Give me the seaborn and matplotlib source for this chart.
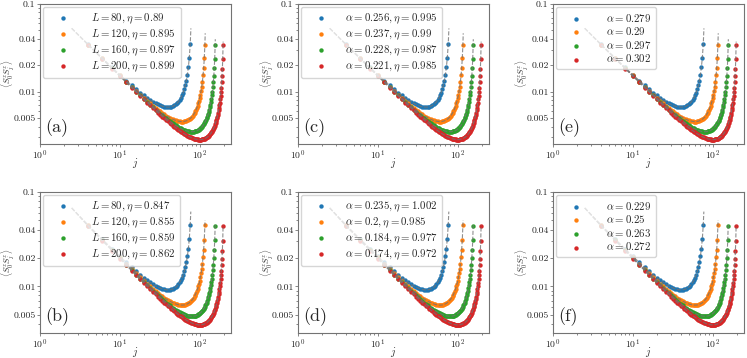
import matplotlib
matplotlib.use("Agg")
import matplotlib.pyplot as plt
from matplotlib.ticker import NullFormatter
import seaborn as sns
import numpy as np
import pandas as pd

# chain lengths and site index j = 4, 6, ..., L-4
sizes = [80, 120, 160, 200]

# ---- upper row data (panels a, c, e) ----
top_L80 = [0.0347, 0.0243, 0.0189, 0.0156, 0.0134, 0.0119, 0.0107, 0.00977, 0.00906, 0.00849,
           0.00804, 0.00767, 0.00738, 0.00714, 0.00696, 0.00682, 0.00673, 0.00667, 0.00666,
           0.00667, 0.00673, 0.00682, 0.00696, 0.00714, 0.00738, 0.00767, 0.00804, 0.00849,
           0.00906, 0.00977, 0.0107, 0.0119, 0.0134, 0.0156, 0.0189, 0.0243, 0.0347]
top_L120 = [0.0344, 0.0240, 0.0186, 0.0153, 0.0130, 0.0114, 0.0102, 0.00924, 0.00847, 0.00785,
            0.00733, 0.00689, 0.00653, 0.00621, 0.00594, 0.00571, 0.00551, 0.00533, 0.00518, 0.00505,
            0.00494, 0.00484, 0.00476, 0.00470, 0.00465, 0.00461, 0.00458, 0.00456, 0.00455,
            0.00456, 0.00458, 0.00461, 0.00465, 0.00470, 0.00476, 0.00484, 0.00494, 0.00505, 0.00518,
            0.00533, 0.00551, 0.00571, 0.00594, 0.00621, 0.00653, 0.00689, 0.00733, 0.00785, 0.00847,
            0.00924, 0.0102, 0.0114, 0.0130, 0.0153, 0.0186, 0.0240, 0.0344]
top_L160 = [0.0343, 0.0238, 0.0185, 0.0151, 0.0129, 0.0113, 0.0100, 0.00905, 0.00827, 0.00763,
            0.00709, 0.00664, 0.00625, 0.00592, 0.00563, 0.00537, 0.00515, 0.00495, 0.00477, 0.00461,
            0.00447, 0.00434, 0.00423, 0.00412, 0.00403, 0.00395, 0.00387, 0.00381, 0.00375, 0.00370,
            0.00365, 0.00362, 0.00358, 0.00355, 0.00353, 0.00352, 0.00350, 0.00350, 0.00349,
            0.00350, 0.00350, 0.00352, 0.00353, 0.00355, 0.00358, 0.00362, 0.00365, 0.00370, 0.00375,
            0.00381, 0.00387, 0.00395, 0.00403, 0.00412, 0.00423, 0.00434, 0.00447, 0.00461, 0.00477,
            0.00495, 0.00515, 0.00537, 0.00563, 0.00592, 0.00625, 0.00664, 0.00709, 0.00763, 0.00827,
            0.00905, 0.0100, 0.0113, 0.0129, 0.0151, 0.0185, 0.0238, 0.0343]
top_L200 = [0.0342, 0.0237, 0.0183, 0.0150, 0.0128, 0.0111, 0.00991, 0.00894, 0.00815, 0.00751,
            0.00696, 0.00651, 0.00611, 0.00577, 0.00547, 0.00520, 0.00497, 0.00476, 0.00457, 0.00440,
            0.00425, 0.00411, 0.00399, 0.00387, 0.00377, 0.00367, 0.00359, 0.00351, 0.00343, 0.00336,
            0.00330, 0.00325, 0.00319, 0.00315, 0.00310, 0.00306, 0.00303, 0.00300, 0.00297, 0.00294,
            0.00292, 0.00290, 0.00288, 0.00287, 0.00286, 0.00285, 0.00284, 0.00284, 0.00284,
            0.00284, 0.00284, 0.00285, 0.00286, 0.00287, 0.00288, 0.00290, 0.00292, 0.00294, 0.00297,
            0.00300, 0.00303, 0.00306, 0.00310, 0.00315, 0.00319, 0.00325, 0.00330, 0.00336, 0.00343,
            0.00351, 0.00359, 0.00367, 0.00377, 0.00387, 0.00399, 0.00411, 0.00425, 0.00440, 0.00457,
            0.00476, 0.00497, 0.00520, 0.00547, 0.00577, 0.00611, 0.00651, 0.00696, 0.00751, 0.00815,
            0.00894, 0.00991, 0.0111, 0.0128, 0.0150, 0.0183, 0.0237, 0.0342]

# ---- lower row data (panels b, d, f) ----
bot_L80 = [0.0448, 0.0318, 0.0250, 0.0208, 0.0180, 0.0160, 0.0144, 0.0133, 0.0123, 0.0116,
           0.0110, 0.0105, 0.0101, 0.00981, 0.00957, 0.00939, 0.00927, 0.00919, 0.00917,
           0.00919, 0.00927, 0.00939, 0.00957, 0.00981, 0.0101, 0.0105, 0.0110, 0.0116,
           0.0123, 0.0133, 0.0144, 0.0160, 0.0180, 0.0208, 0.0250, 0.0318, 0.0448]
bot_L120 = [0.0443, 0.0313, 0.0245, 0.0203, 0.0174, 0.0153, 0.0137, 0.0125, 0.0115, 0.0107,
            0.00999, 0.00942, 0.00893, 0.00852, 0.00816, 0.00785, 0.00759, 0.00735, 0.00715, 0.00698,
            0.00683, 0.00670, 0.00660, 0.00651, 0.00644, 0.00639, 0.00635, 0.00633, 0.00632,
            0.00633, 0.00635, 0.00639, 0.00644, 0.00651, 0.00660, 0.00670, 0.00683, 0.00698, 0.00715,
            0.00735, 0.00759, 0.00785, 0.00816, 0.00852, 0.00893, 0.00942, 0.00999, 0.0107, 0.0115,
            0.0125, 0.0137, 0.0153, 0.0174, 0.0203, 0.0245, 0.0313, 0.0443]
bot_L160 = [0.0439, 0.0309, 0.0241, 0.0199, 0.0170, 0.0149, 0.0133, 0.0121, 0.0111, 0.0103,
            0.00956, 0.00897, 0.00846, 0.00802, 0.00764, 0.00730, 0.00701, 0.00674, 0.00651, 0.00630,
            0.00611, 0.00594, 0.00579, 0.00565, 0.00553, 0.00542, 0.00532, 0.00524, 0.00516, 0.00509,
            0.00503, 0.00498, 0.00493, 0.00490, 0.00487, 0.00485, 0.00483, 0.00482, 0.00482,
            0.00482, 0.00483, 0.00485, 0.00487, 0.00490, 0.00493, 0.00498, 0.00503, 0.00509, 0.00516,
            0.00524, 0.00532, 0.00542, 0.00553, 0.00565, 0.00579, 0.00594, 0.00611, 0.00630, 0.00651,
            0.00674, 0.00701, 0.00730, 0.00764, 0.00802, 0.00846, 0.00897, 0.00956, 0.0103, 0.0111,
            0.0121, 0.0133, 0.0149, 0.0170, 0.0199, 0.0241, 0.0309, 0.0439]
bot_L200 = [0.0436, 0.0306, 0.0239, 0.0197, 0.0168, 0.0147, 0.0131, 0.0119, 0.0109, 0.0100,
            0.00933, 0.00873, 0.00822, 0.00777, 0.00738, 0.00703, 0.00672, 0.00645, 0.00620, 0.00598,
            0.00578, 0.00560, 0.00543, 0.00528, 0.00514, 0.00502, 0.00490, 0.00479, 0.00470, 0.00461,
            0.00452, 0.00445, 0.00438, 0.00432, 0.00426, 0.00421, 0.00416, 0.00412, 0.00408, 0.00404,
            0.00401, 0.00399, 0.00396, 0.00395, 0.00393, 0.00392, 0.00391, 0.00390, 0.00390,
            0.00390, 0.00391, 0.00392, 0.00393, 0.00395, 0.00396, 0.00399, 0.00401, 0.00404, 0.00408,
            0.00412, 0.00416, 0.00421, 0.00426, 0.00432, 0.00438, 0.00445, 0.00452, 0.00461, 0.00470,
            0.00479, 0.00490, 0.00502, 0.00514, 0.00528, 0.00543, 0.00560, 0.00578, 0.00598, 0.00620,
            0.00645, 0.00672, 0.00703, 0.00738, 0.00777, 0.00822, 0.00873, 0.00933, 0.0100, 0.0109,
            0.0119, 0.0131, 0.0147, 0.0168, 0.0197, 0.0239, 0.0306, 0.0436]

# ends of the dashed fit curves (shared start, one end per L)
top_fit_start = (2.5, 0.0527)
top_fit_end_j = [77.5, 117.1, 156.6, 196.4]
top_fit_end_c = [0.0527, 0.0463, 0.0396, 0.0372]
bot_fit_start = (2.5, 0.0677)
bot_fit_end_j = [77.3, 116.5, 156.2, 196.1]
bot_fit_end_c = [0.0620, 0.0500, 0.0460, 0.0445]

# legend texts
labels_a = [r'$L=80, \eta=0.89$', r'$L=120, \eta=0.895$', r'$L=160, \eta=0.897$', r'$L=200, \eta=0.899$']
labels_b = [r'$L=80, \eta=0.847$', r'$L=120, \eta=0.855$', r'$L=160, \eta=0.859$', r'$L=200, \eta=0.862$']
labels_c = [r'$\alpha=0.256, \eta=0.995$', r'$\alpha=0.237, \eta=0.99$', r'$\alpha=0.228, \eta=0.987$', r'$\alpha=0.221, \eta=0.985$']
labels_d = [r'$\alpha=0.235, \eta=1.002$', r'$\alpha=0.2, \eta=0.985$', r'$\alpha=0.184, \eta=0.977$', r'$\alpha=0.174, \eta=0.972$']
labels_e = [r'$\alpha=0.279$', r'$\alpha=0.29$', r'$\alpha=0.297$', r'$\alpha=0.302$']
labels_f = [r'$\alpha=0.229$', r'$\alpha=0.25$', r'$\alpha=0.263$', r'$\alpha=0.272$']

ytick_vals = [0.005, 0.01, 0.02, 0.04, 0.1]
ytick_text = ['0.005', '0.01', '0.02', '0.04', '0.1']

sns.set_style("ticks")
plt.rcParams['font.family'] = 'serif'
plt.rcParams['font.serif'] = ['cmr10']
plt.rcParams['mathtext.fontset'] = 'cm'
plt.rcParams['axes.formatter.use_mathtext'] = True
plt.rcParams['axes.unicode_minus'] = False

colors = sns.color_palette("tab10")[:4]
frame_color = '0.45'


def draw_panel(ax, series, fit_start, fit_end_j, fit_end_c, labels, tag, ylim, textpad):
    ax.set_xscale('log')
    ax.set_yscale('log')
    for k, L in enumerate(sizes):
        df = pd.DataFrame({'j': np.arange(4, L - 3, 2), 'C': series[k]})
        sns.scatterplot(data=df, x='j', y='C', ax=ax, color=colors[k], s=10,
                        linewidth=0, label=labels[k], zorder=2)
    for k, L in enumerate(sizes):
        fj = np.concatenate([[fit_start[0]], np.arange(4, L - 3, 2), [fit_end_j[k]]])
        fc = np.concatenate([[fit_start[1]], series[k], [fit_end_c[k]]])
        sns.lineplot(x=fj, y=fc, ax=ax, color='0.45', lw=0.8, ls='--', alpha=0.8,
                     estimator=None, sort=False, zorder=3)

    ax.set_xlim(1, 245)
    ax.set_ylim(*ylim)
    ax.set_yticks(ytick_vals)
    ax.set_yticklabels(ytick_text)
    ax.yaxis.set_minor_formatter(NullFormatter())
    ax.tick_params(which='both', labelsize=7, color=frame_color, width=0.6, pad=1.0)
    ax.tick_params(which='major', length=2.2)
    ax.tick_params(which='minor', length=1.3)
    for sp in ax.spines.values():
        sp.set_color(frame_color)
        sp.set_linewidth(0.8)

    ax.set_xlabel(r'$j$', fontsize=7.5)
    ax.xaxis.set_label_coords(0.5, -0.085)
    ax.set_ylabel(r'$\langle S^z_0 S^z_j\rangle$', fontsize=6.2)
    ax.yaxis.set_label_coords(-0.123, 0.5)
    ax.text(0.028, 0.05, tag, transform=ax.transAxes, fontsize=13, ha='left', va='bottom')
    ax.legend(loc='upper left', fontsize=7.8, handletextpad=textpad, handlelength=2.8,
              labelspacing=0.15, borderaxespad=0.3, borderpad=0.4, framealpha=0.8)


fig = plt.figure(figsize=(7.47, 3.58), dpi=100)

col_left = [0.0535, 0.3989, 0.7403]
col_pad = [1.25, 0.85, 1.4]
width = 0.2555
top_bottom, top_height = 0.5978, 0.3911
bot_bottom, bot_height = 0.0698, 0.3938

top_series = [top_L80, top_L120, top_L160, top_L200]
bot_series = [bot_L80, bot_L120, bot_L160, bot_L200]
top_ylim = (0.00253, 0.1)
bot_ylim = (0.0032, 0.1)

for c, (labels, tag) in enumerate([(labels_a, '(a)'), (labels_c, '(c)'), (labels_e, '(e)')]):
    ax = fig.add_axes([col_left[c], top_bottom, width, top_height])
    draw_panel(ax, top_series, top_fit_start, top_fit_end_j, top_fit_end_c, labels, tag,
               top_ylim, col_pad[c])

for c, (labels, tag) in enumerate([(labels_b, '(b)'), (labels_d, '(d)'), (labels_f, '(f)')]):
    ax = fig.add_axes([col_left[c], bot_bottom, width, bot_height])
    draw_panel(ax, bot_series, bot_fit_start, bot_fit_end_j, bot_fit_end_c, labels, tag,
               bot_ylim, col_pad[c])

fig.savefig('out.png', dpi=100)
